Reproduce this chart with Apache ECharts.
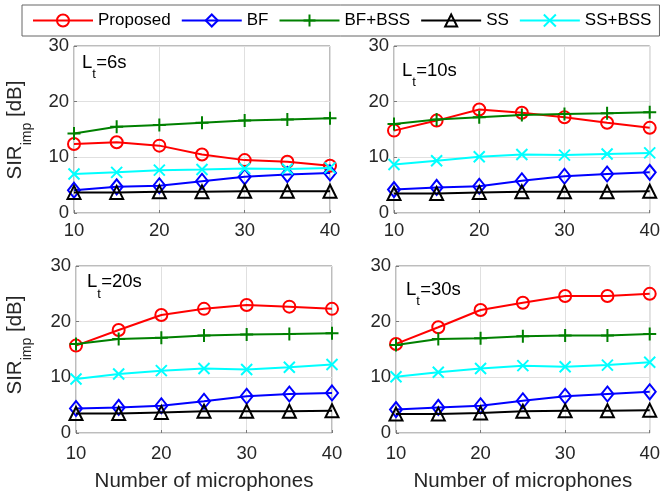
<!DOCTYPE html>
<html>
<head>
<meta charset="utf-8">
<script src="https://cdn.jsdelivr.net/npm/echarts@6/dist/echarts.min.js"></script>
<style>html,body{margin:0;padding:0;background:#fff;}#c{width:663px;height:498px;}</style>
</head>
<body>
<div id="c"></div>
<script>
// ---- data ----
const mics = [10, 15, 20, 25, 30, 35, 40];
const seriesNames = ['Proposed', 'BF', 'BF+BSS', 'SS', 'SS+BSS'];
const panelLabels = ['=6s', '=10s', '=20s', '=30s'];
const xTicks = [10, 20, 30, 40];
const yTicks = [0, 10, 20, 30];

// L_t = 6s
const proposed6 = [12.4, 12.7, 12.1, 10.5, 9.5, 9.2, 8.5];
const bf6       = [4.1, 4.7, 4.9, 5.7, 6.5, 6.9, 7.2];
const bfbss6    = [14.3, 15.5, 15.8, 16.2, 16.6, 16.8, 17.0];
const ss6       = [3.7, 3.7, 3.8, 3.8, 3.9, 3.9, 3.9];
const ssbss6    = [7.0, 7.3, 7.7, 7.8, 8.0, 7.9, 8.1];
// L_t = 10s
const proposed10 = [14.8, 16.6, 18.6, 18.0, 17.2, 16.2, 15.3];
const bf10       = [4.2, 4.6, 4.8, 5.8, 6.6, 7.0, 7.3];
const bfbss10    = [16.0, 16.8, 17.2, 17.6, 17.8, 17.9, 18.1];
const ss10       = [3.5, 3.5, 3.7, 3.8, 3.8, 3.8, 3.9];
const ssbss10    = [8.7, 9.4, 10.1, 10.5, 10.4, 10.6, 10.8];
// L_t = 20s
const proposed20 = [15.7, 18.5, 21.2, 22.3, 23.0, 22.7, 22.3];
const bf20       = [4.4, 4.6, 4.9, 5.7, 6.6, 7.0, 7.2];
const bfbss20    = [16.0, 16.9, 17.1, 17.5, 17.7, 17.8, 17.9];
const ss20       = [3.5, 3.5, 3.7, 3.9, 3.9, 3.9, 4.0];
const ssbss20    = [9.7, 10.6, 11.2, 11.6, 11.4, 11.8, 12.3];
// L_t = 30s
const proposed30 = [16.0, 19.0, 22.1, 23.4, 24.6, 24.6, 25.0];
const bf30       = [4.2, 4.6, 4.9, 5.8, 6.6, 7.0, 7.4];
const bfbss30    = [15.8, 16.9, 17.0, 17.4, 17.5, 17.5, 17.8];
const ss30       = [3.4, 3.4, 3.6, 3.9, 4.0, 4.0, 4.1];
const ssbss30    = [10.1, 10.9, 11.6, 12.1, 11.9, 12.2, 12.7];

const panels = [
  [proposed6, bf6, bfbss6, ss6, ssbss6],
  [proposed10, bf10, bfbss10, ss10, ssbss10],
  [proposed20, bf20, bfbss20, ss20, ssbss20],
  [proposed30, bf30, bfbss30, ss30, ssbss30]
];

// ---- styles ----
const FONT = 'Liberation Sans, Arial, Helvetica, sans-serif';
const TXT = '#262626';
const colors = ['#ff0000', '#0000ff', '#008000', '#000000', '#00ffff'];
const symbols = [
  'circle',
  'diamond',
  'path://M0,6L12,6M6,0L6,12',
  'triangle',
  'path://M0,0L10,10M10,0L0,10'
];
const symbolSizes = [12, [12, 15], 13, 13, 11];

const grids = [
  {left: 74, top: 46, width: 256, height: 167},
  {left: 394, top: 46, width: 258, height: 167},
  {left: 76, top: 266, width: 256, height: 167},
  {left: 396, top: 266, width: 256, height: 167}
];

const option = {
  animation: false,
  backgroundColor: '#fff',
  legend: {
    data: seriesNames,
    left: 22, top: 5,
    padding: [7, 8, 7, 10],
    itemWidth: 60, itemHeight: 15, itemGap: 10,
    borderColor: '#666', borderWidth: 1,
    backgroundColor: '#fff',
    textStyle: {fontSize: 17, color: '#000', fontFamily: FONT},
    selectedMode: false
  },
  grid: grids.map(g => Object.assign({show: true, borderColor: '#7a7a7a', borderWidth: 1, backgroundColor: 'transparent', containLabel: false}, g)),
  xAxis: grids.map((g, i) => ({
    type: 'value', gridIndex: i, min: xTicks[0], max: xTicks[xTicks.length - 1], interval: 10,
    axisLine: {show: false},
    axisTick: {show: true, inside: true, length: 3, lineStyle: {color: '#7a7a7a'}},
    splitLine: {show: true, lineStyle: {color: '#e0e0e0', width: 1}},
    axisLabel: {fontSize: 18.5, color: TXT, fontFamily: FONT, margin: i < 2 ? 8 : 11},
    name: i >= 2 ? 'Number of microphones' : '',
    nameLocation: 'middle', nameGap: 38,
    nameTextStyle: {fontSize: 20.5, color: TXT, fontFamily: FONT}
  })),
  yAxis: grids.map((g, i) => ({
    type: 'value', gridIndex: i, min: yTicks[0], max: yTicks[yTicks.length - 1], interval: 10,
    axisLine: {show: false},
    axisTick: {show: true, inside: true, length: 3, lineStyle: {color: '#7a7a7a'}},
    splitLine: {show: true, lineStyle: {color: '#e0e0e0', width: 1}},
    axisLabel: {fontSize: 18.5, color: TXT, fontFamily: FONT, margin: 5}
  })),
  series: [],
  graphic: []
};

panels.forEach((vals, p) => {
  vals.forEach((arr, s) => {
    option.series.push({
      type: 'line',
      name: seriesNames[s],
      xAxisIndex: p, yAxisIndex: p,
      data: mics.map((m, k) => [m, arr[k]]),
      symbol: symbols[s],
      symbolSize: symbolSizes[s],
      showAllSymbol: true,
      lineStyle: {color: colors[s], width: 2},
      itemStyle: {color: 'rgba(255,255,255,0)', borderColor: colors[s], borderWidth: 2},
      emphasis: {disabled: true},
      z: 3 + s
    });
  });
});

// panel annotations L_t=..
const annPos = [[82, 62.5], [402, 70.5], [87, 282], [406, 289.5]];
annPos.forEach((pos, i) => {
  const [x0, yc] = pos;
  option.graphic.push(
    {type: 'text', x: x0, y: yc, style: {text: 'L', fontSize: 18.5, fontFamily: FONT, fill: '#000', align: 'left', verticalAlign: 'middle'}},
    {type: 'text', x: x0 + 10.3, y: yc + 12, style: {text: 't', fontSize: 13, fontFamily: FONT, fill: '#000', align: 'left', verticalAlign: 'middle'}},
    {type: 'text', x: x0 + 14.2, y: yc, style: {text: panelLabels[i], fontSize: 18.5, fontFamily: FONT, fill: '#000', align: 'left', verticalAlign: 'middle'}}
  );
});

// y axis names
[[15, 130], [15, 345]].forEach(([cx, cy]) => {
  option.graphic.push({
    type: 'group', x: cx, y: cy, rotation: Math.PI / 2,
    children: [
      {type: 'text', x: -49.5, y: 0, style: {text: 'SIR', fontSize: 20.5, fontFamily: FONT, fill: TXT, align: 'left', verticalAlign: 'middle'}},
      {type: 'text', x: -15.3, y: 12, style: {text: 'imp', fontSize: 14, fontFamily: FONT, fill: TXT, align: 'left', verticalAlign: 'middle'}},
      {type: 'text', x: 7.3, y: 0, style: {text: ' [dB]', fontSize: 20.5, fontFamily: FONT, fill: TXT, align: 'left', verticalAlign: 'middle'}}
    ]
  });
});

const chart = echarts.init(document.getElementById('c'), null, {renderer: 'canvas'});
chart.setOption(option);
</script>
</body>
</html>
